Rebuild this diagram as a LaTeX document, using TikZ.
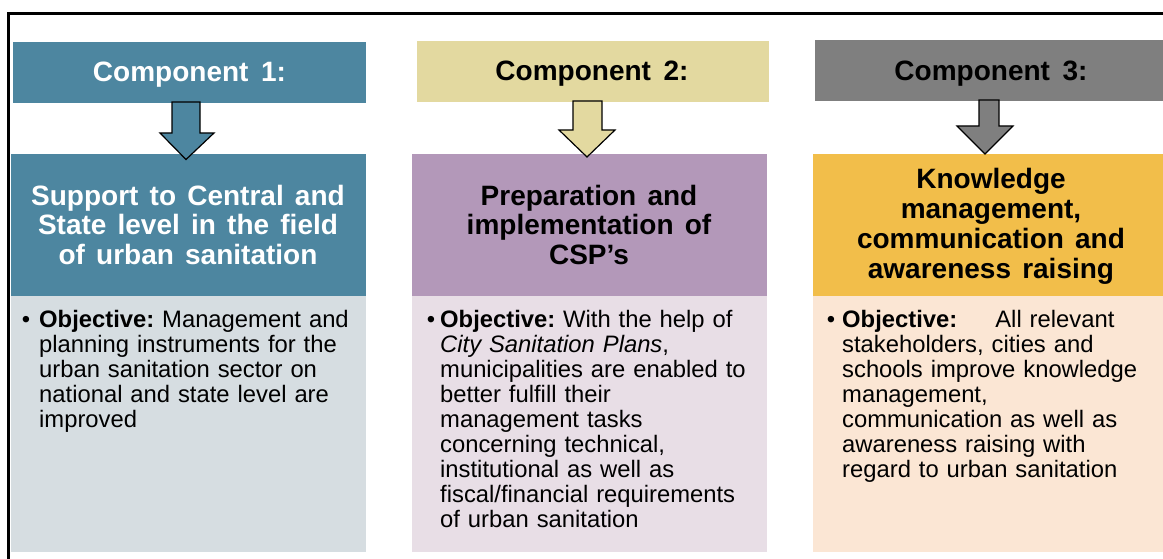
\documentclass[tikz,border=0pt]{standalone}
\usepackage{fontspec}
\setmainfont{Liberation Sans}
\definecolor{cAhead}{HTML}{4D86A0}
\definecolor{cAbody}{HTML}{D6DDE1}
\definecolor{cBhead}{HTML}{E3D9A0}
\definecolor{cBtitle}{HTML}{B398B9}
\definecolor{cBbody}{HTML}{E8DEE6}
\definecolor{cChead}{HTML}{7F7F7F}
\definecolor{cCtitle}{HTML}{F2BE4A}
\definecolor{cCbody}{HTML}{FBE6D4}
\begin{document}
\frenchspacing
\begin{tikzpicture}[x=1pt,y=-1pt,
  box/.style={draw=none,inner sep=0pt,outer sep=0pt,anchor=north west},
  blockarrow/.style={draw=black,line width=1.2pt,line join=miter},
  headtxt/.style={font=\fontsize{28}{30}\selectfont\bfseries,anchor=base,inner sep=0pt},
  titletxt/.style={font=\fontsize{28}{30}\selectfont\bfseries,align=center,anchor=base,inner sep=0pt,
    execute at begin node={\spaceskip=0.4em\relax}},
  bodytxt/.style={font=\fontsize{23.8}{25}\selectfont,align=left,anchor=base west,inner sep=0pt,text width=320pt},
]
\useasboundingbox (0,0) rectangle (1163,559);
\fill[white] (0,0) rectangle (1163,559);
% frame
\draw[line width=3pt] (8.5,559) -- (8.5,13.5) -- (1163,13.5);

% column 1
\node[box,fill=cAhead,minimum width=353pt,minimum height=61pt] (h1) at (13,42) {};
\node[box,fill=cAhead,minimum width=355pt,minimum height=141pt] (t1) at (11,154.5) {};
\node[box,fill=cAbody,minimum width=355pt,minimum height=256.5pt] (b1) at (11,295.5) {};
\node[headtxt,text=white] (h1t) at (189.5,82) {Component\hspace{0.45em}1:};
\node[titletxt,text=white] (t1t) at (188,265) {Support to Central and\\State level in the field\\of urban sanitation};
\node[bodytxt] (b1t) at (39,327) {\llap{•\hspace{9pt}}\textbf{Objective:} Management and\\planning instruments for the\\urban sanitation sector on\\national and state level are\\improved};
\draw[blockarrow,fill=cAhead] (172,102) -- (172,133) -- (160,133) -- (186,159.5) -- (214,133) -- (200,133) -- (200,102) -- cycle;

% column 2
\node[box,fill=cBhead,minimum width=352pt,minimum height=61pt] (h2) at (417,41) {};
\node[box,fill=cBtitle,minimum width=355pt,minimum height=141pt] (t2) at (412,154.5) {};
\node[box,fill=cBbody,minimum width=355pt,minimum height=256.5pt] (b2) at (412,295.5) {};
\node[headtxt,text=black] (h2t) at (592,81) {Component\hspace{0.45em}2:};
\node[titletxt,text=black] (t2t) at (589,265) {Preparation and\\implementation of\\CSP’s};
\node[bodytxt] (b2t) at (440,327) {\llap{•\hspace{5pt}}\textbf{Objective:} With the help of\\\textit{City Sanitation Plans},\\municipalities are enabled to\\better fulfill their\\management tasks\\concerning technical,\\institutional as well as\\fiscal/financial requirements\\of urban sanitation};
\draw[blockarrow,fill=cBhead] (573,101) -- (573,130) -- (559,130) -- (587,157) -- (615,130) -- (602,130) -- (602,101) -- cycle;

% column 3
\node[box,fill=cChead,minimum width=348pt,minimum height=61pt] (h3) at (815,40) {};
\node[box,fill=cCtitle,minimum width=350pt,minimum height=141pt] (t3) at (813,154.5) {};
\node[box,fill=cCbody,minimum width=350pt,minimum height=256.5pt] (b3) at (813,295.5) {};
\node[headtxt,text=black] (h3t) at (991,81) {Component\hspace{0.45em}3:};
\node[titletxt,text=black] (t3t) at (991,278) {Knowledge\\management,\\communication and\\awareness raising};
\node[bodytxt] (b3t) at (842,327) {\llap{•\hspace{7pt}}\textbf{Objective:}\hspace{1.6em}All relevant\\stakeholders, cities and\\schools improve knowledge\\management,\\communication as well as\\awareness raising with\\regard to urban sanitation};
\draw[blockarrow,fill=cChead] (979,100) -- (979,126) -- (957,126) -- (985,154) -- (1013,126) -- (999,126) -- (999,100) -- cycle;
\end{tikzpicture}
\end{document}
